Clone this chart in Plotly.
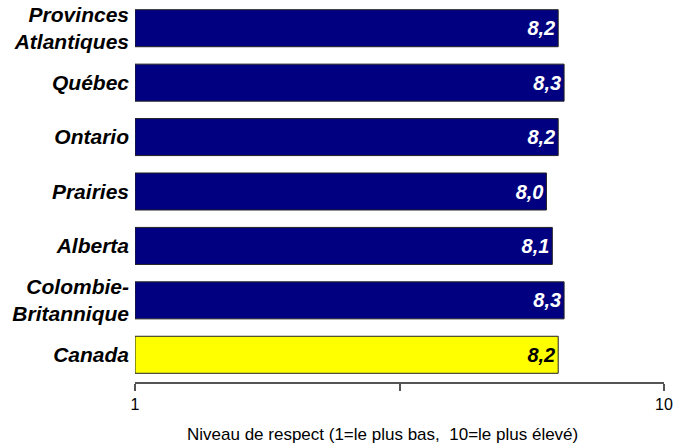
import plotly.graph_objects as go

categories = ["Provinces<br>Atlantiques", "Québec", "Ontario", "Prairies", "Alberta",
              "Colombie-<br>Britannique", "Canada"]
values = [8.2, 8.3, 8.2, 8.0, 8.1, 8.3, 8.2]
bar_colors = ["#000080"] * 6 + ["#FFFF00"]
text_colors = ["#FFFFFF"] * 6 + ["#000000"]
axis_min = 1
axis_max = 10
tick_vals = [1, 5.5, 10]
tick_text = ["1", "", "10"]
x_title = "Niveau de respect (1=le plus bas, \u00a010=le plus élevé)"

labels = [f"{v:.1f}".replace(".", ",") for v in values]
lengths = [v - axis_min for v in values]

font_family = "Arial, 'Liberation Sans', sans-serif"

fig = go.Figure(go.Bar(
    y=categories,
    x=lengths,
    base=axis_min,
    orientation="h",
    width=0.68,
    marker=dict(color=bar_colors, line=dict(color="#222222", width=1)),
    text=labels,
    textposition="inside",
    insidetextanchor="end",
    textangle=0,
    insidetextfont=dict(family=font_family, size=20, color=text_colors,
                        weight="bold", style="italic"),
    cliponaxis=False,
    hoverinfo="skip",
))

fig.update_layout(
    width=676, height=445,
    margin=dict(l=135, r=12, t=1, b=63),
    plot_bgcolor="white", paper_bgcolor="white",
    showlegend=False,
    font=dict(family=font_family, color="#000000"),
    annotations=[dict(
        text=x_title, xref="paper", yref="paper",
        x=0.467, y=0, yshift=-64, xanchor="center", yanchor="bottom",
        showarrow=False, font=dict(family=font_family, size=17, color="#000000"),
    )],
)

fig.update_xaxes(
    range=[axis_min, axis_max],
    tickvals=tick_vals, ticktext=tick_text,
    showgrid=False, zeroline=False,
    showline=True, linecolor="#555555", linewidth=2,
    ticks="outside", ticklen=7, tickcolor="#555555", tickwidth=2,
    tickfont=dict(family=font_family, size=16, color="#000000"),
)

fig.update_yaxes(
    autorange="reversed",
    showgrid=False, zeroline=False, showline=False,
    ticks="", ticklabelstandoff=5,
    tickfont=dict(family=font_family, size=21, color="#000000",
                  weight="bold", style="italic"),
)

fig.write_html(
    "out.html",
    config={"displayModeBar": False, "staticPlot": True},
    post_script="document.body.style.margin='0';document.body.style.padding='0';",
)
